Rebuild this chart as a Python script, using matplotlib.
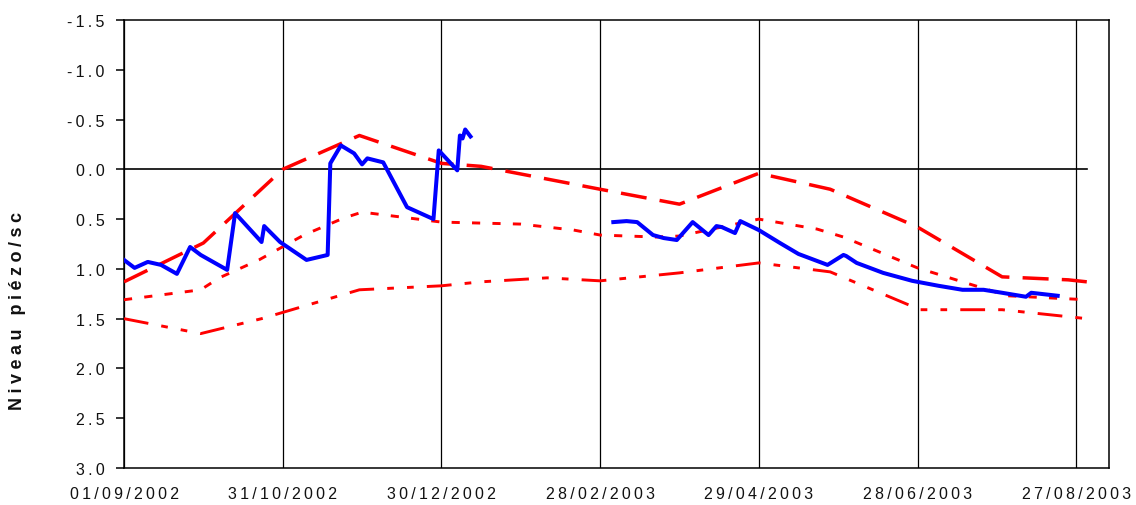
import numpy as np
import pandas as pd
import matplotlib
matplotlib.use('Agg')
import matplotlib.pyplot as plt
import matplotlib.dates as mdates
from matplotlib.ticker import FuncFormatter, FixedLocator

plt.rcParams['font.family'] = ['Liberation Sans', 'DejaVu Sans']

# niveau mesuré, premier lot de relevés
dates_mes1 = ['01/09/2002', '05/09/2002', '10/09/2002', '15/09/2002', '21/09/2002',
              '26/09/2002', '30/09/2002', '10/10/2002', '13/10/2002', '23/10/2002',
              '24/10/2002', '30/10/2002', '09/11/2002', '17/11/2002', '18/11/2002',
              '22/11/2002', '27/11/2002', '30/11/2002', '02/12/2002', '08/12/2002',
              '17/12/2002', '27/12/2002', '29/12/2002', '05/01/2003', '06/01/2003',
              '07/01/2003', '08/01/2003', '10/01/2003']
niv_mes1 = [0.91, 0.99, 0.93, 0.96, 1.05, 0.78, 0.86, 1.01, 0.44, 0.73,
            0.57, 0.73, 0.91, 0.86, -0.06, -0.24, -0.16, -0.05, -0.11, -0.07,
            0.38, 0.50, -0.19, 0.01, -0.34, -0.31, -0.40, -0.33]

# niveau mesuré, second lot de relevés
dates_mes2 = ['05/03/2003', '10/03/2003', '14/03/2003', '20/03/2003', '24/03/2003',
              '29/03/2003', '04/04/2003', '10/04/2003', '13/04/2003', '15/04/2003',
              '20/04/2003', '22/04/2003', '29/04/2003', '07/05/2003', '14/05/2003',
              '25/05/2003', '31/05/2003', '01/06/2003', '05/06/2003', '15/06/2003',
              '26/06/2003', '06/07/2003', '15/07/2003', '23/07/2003', '30/07/2003',
              '08/08/2003', '10/08/2003', '20/08/2003']
niv_mes2 = [0.53, 0.52, 0.53, 0.66, 0.69, 0.71, 0.53, 0.66, 0.57, 0.58,
            0.64, 0.52, 0.61, 0.74, 0.85, 0.96, 0.86, 0.87, 0.94, 1.04,
            1.12, 1.17, 1.21, 1.21, 1.24, 1.28, 1.24, 1.27]

# courbe haute (tirets longs)
dates_haut = ['01/09/2002', '01/10/2002', '31/10/2002', '29/11/2002', '30/12/2002',
              '14/01/2003', '28/02/2003', '30/03/2003', '29/04/2003', '26/05/2003',
              '28/06/2003', '30/07/2003', '24/08/2003', '31/08/2003']
niv_haut = [1.13, 0.74, 0.0, -0.34, -0.06, -0.03, 0.20, 0.35, 0.04, 0.20,
            0.58, 1.08, 1.11, 1.13]

# courbe médiane (tirets courts)
dates_moy = ['01/09/2002', '30/09/2002', '07/10/2002', '22/10/2002', '08/11/2002',
             '23/11/2002', '30/11/2002', '30/12/2002', '29/01/2003', '18/02/2003',
             '28/02/2003', '21/03/2003', '30/03/2003', '29/04/2003', '21/05/2003',
             '31/05/2003', '28/06/2003', '01/08/2003', '31/08/2003']
niv_moy = [1.31, 1.21, 1.09, 0.91, 0.66, 0.49, 0.43, 0.53, 0.55, 0.61,
           0.66, 0.68, 0.67, 0.50, 0.60, 0.68, 0.99, 1.27, 1.31]

# courbe basse (tiret-point-point)
dates_bas = ['01/09/2002', '30/09/2002', '23/10/2002', '29/11/2002', '30/12/2002',
             '14/01/2003', '08/02/2003', '28/02/2003', '30/03/2003', '29/04/2003',
             '26/05/2003', '29/06/2003', '30/07/2003', '31/08/2003']
niv_bas = [1.50, 1.65, 1.50, 1.21, 1.17, 1.13, 1.09, 1.12, 1.04, 0.94,
           1.03, 1.41, 1.41, 1.50]

# ligne du zéro
dates_zero = ['01/09/2002', '31/08/2003']
niv_zero = [0.0, 0.0]

def conv(d):
    return pd.to_datetime(d, format='%d/%m/%Y')

def espacer(txt, sep='\u2009'):
    return sep.join(txt)

debut = conv('01/09/2002')
ticks_x = pd.date_range(debut, periods=7, freq='60D')
ticks_y = np.arange(-1.5, 3.01, 0.5)

fig = plt.figure(figsize=(11.36, 5.06), dpi=100)
ax = fig.add_axes([124 / 1136, 1 - 469 / 506, (1109 - 124) / 1136, (469 - 21) / 506])

ax.plot(conv(dates_zero), niv_zero, color='black', lw=1.2, zorder=2)
ax.plot(conv(dates_haut), niv_haut, color='red', lw=2.5, dashes=(7.5, 3.8), zorder=3)
ax.plot(conv(dates_moy), niv_moy, color='red', lw=2.1, dashes=(2.8, 4.2), zorder=3)
ax.plot(conv(dates_bas), niv_bas, color='red', lw=2.1, dashes=(8.5, 4.5, 2.3, 4.5, 2.3, 4.5), zorder=3)
ax.plot(conv(dates_mes1), niv_mes1, color='#0000ff', lw=2.9, solid_joinstyle='round', zorder=4)
ax.plot(conv(dates_mes2), niv_mes2, color='#0000ff', lw=2.9, solid_joinstyle='round', zorder=4)

ax.set_xlim(debut, debut + pd.Timedelta(days=372.4))
ax.set_ylim(3.0, -1.5)

ax.xaxis.set_major_locator(FixedLocator(mdates.date2num(ticks_x)))
ax.xaxis.set_major_formatter(FuncFormatter(lambda v, p: espacer(mdates.num2date(v).strftime('%d/%m/%Y'))))
ax.set_yticks(ticks_y)
ax.yaxis.set_major_formatter(FuncFormatter(lambda v, p: espacer('%.1f' % (v + 0.0))))

ax.tick_params(axis='x', length=0, pad=13, labelsize=11.5, labelcolor='#111111')
ax.tick_params(axis='y', direction='out', length=6, width=1.1, pad=8, labelsize=11.5, labelcolor='#111111')
ax.xaxis.grid(True, color='black', lw=0.9)
ax.set_axisbelow(True)
for s in ax.spines.values():
    s.set_linewidth(1.1)
    s.set_color('black')

fig.text(18 / 1136, 1 - 311 / 506, espacer('Niveau piézo/sc', '\u2005'), rotation=90,
         ha='center', va='center', fontsize=13, fontweight='bold', color='#111111')

plt.savefig('out.png', dpi=100)
